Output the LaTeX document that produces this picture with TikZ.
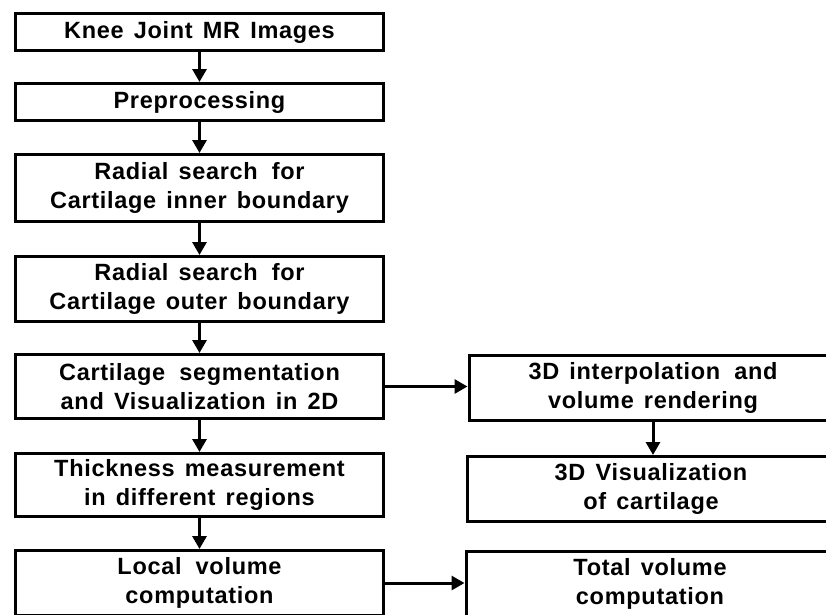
\documentclass[tikz,border=0pt]{standalone}
\usepackage{fontspec}
\setmainfont{Liberation Sans}[LetterSpace=3,WordSpace=1.4]
\usetikzlibrary{arrows.meta}
\begin{document}
\begin{tikzpicture}[x=1pt,y=-1pt,
  box/.style={draw, line width=3pt, minimum width=368pt, align=center, inner sep=0pt,
    font=\fontsize{23.5}{29}\selectfont\bfseries},
  arr/.style={line width=3pt, -{Triangle[width=14pt,length=13pt]}}]
\useasboundingbox (0,0) rectangle (826,614);
\clip (0,0) rectangle (826,614);
\node[box, minimum height=37pt] (n1) at (199.5,32) {Knee Joint MR Images};
\node[box, minimum height=37pt] (n2) at (199.5,102) {Preprocessing};
\node[box, minimum height=67pt] (n3) at (199.5,188) {Radial search\, for\\Cartilage inner boundary};
\node[box, minimum height=65pt] (n4) at (199.5,289) {Radial search\, for\\Cartilage outer boundary};
\node[box, minimum height=64pt] (n5) at (199.5,386.5) {Cartilage\, segmentation\\and Visualization in 2D};
\node[box, minimum height=63pt] (n6) at (199.5,485) {Thickness measurement\\in different regions};
\node[box, minimum height=65pt] (n7) at (199.5,583) {Local\, volume\\computation};
\node[box, minimum height=65pt] (nA) at (653,388) {3D interpolation\, and\\volume rendering};
\node[box, minimum height=65pt] (nB) at (651,489) {3D Visualization\\of cartilage};
\node[box, minimum height=65pt] (nC) at (650,584) {Total volume\\computation};
\draw[arr] (n1) -- (n2);
\draw[arr] (n2) -- (n3);
\draw[arr] (n3) -- (n4);
\draw[arr] (n4) -- (n5);
\draw[arr] (n5) -- (n6);
\draw[arr] (n6) -- (n7);
\draw[arr] (nA.south) -- (nA.south |- nB.north);
\draw[arr] (n5.east) -- (n5.east -| nA.west);
\draw[arr] (n7.east) -- (n7.east -| nC.west);
\end{tikzpicture}
\end{document}
